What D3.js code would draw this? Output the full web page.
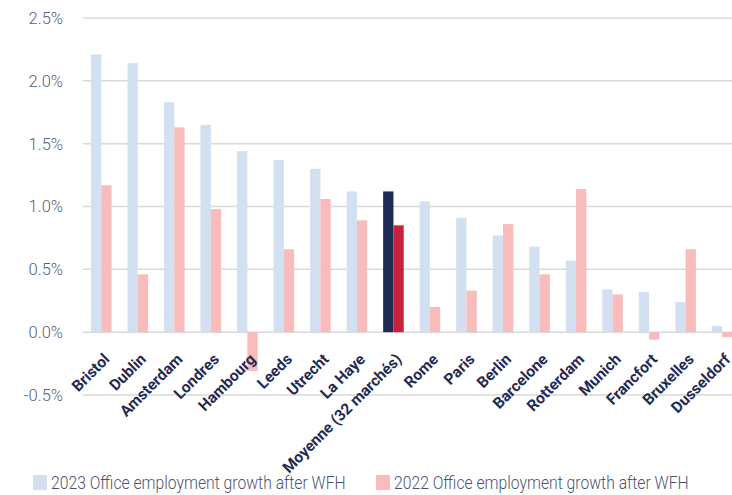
<!DOCTYPE html>
<html>
<head>
<meta charset="utf-8">
<script src="https://d3js.org/d3.v7.min.js"></script>
<style>
  body { margin: 0; background: #fff; }
  .ylab { font-family: Roboto, sans-serif; font-weight: 300; font-size: 16.5px; fill: #59607a; }
  .xlab { font-family: Roboto, sans-serif; font-size: 15.5px; font-weight: bold; fill: #1f2a55; }
  .leg { font-family: Roboto, sans-serif; font-weight: 300; font-size: 18.5px; fill: #4c5370; }
</style>
</head>
<body>
<script>
  // city names, in chart order
  let cities = ["Bristol", "Dublin", "Amsterdam", "Londres", "Hambourg", "Leeds", "Utrecht", "La Haye",
    "Moyenne (32 marchés)", "Rome", "Paris", "Berlin", "Barcelone", "Rotterdam", "Munich", "Francfort",
    "Bruxelles", "Dusseldorf"];
  // growth in %
  let growth2023 = [2.21, 2.14, 1.83, 1.65, 1.44, 1.37, 1.30, 1.12, 1.12, 1.04, 0.91, 0.77, 0.68, 0.57, 0.34, 0.32, 0.24, 0.05];
  let growth2022 = [1.17, 0.46, 1.63, 0.98, -0.31, 0.66, 1.06, 0.89, 0.85, 0.20, 0.33, 0.86, 0.46, 1.14, 0.30, -0.06, 0.66, -0.04];
  let yTicks = [-0.5, 0, 0.5, 1.0, 1.5, 2.0, 2.5];
  let seriesNames = ["2023 Office employment growth after WFH", "2022 Office employment growth after WFH"];
  let highlight = "Moyenne (32 marchés)";

  let width = 732, height = 495;
  let svg = d3.select("body").append("svg").attr("width", width).attr("height", height);

  let x = d3.scaleBand().domain(cities).range([83, 740.4]).paddingInner(0.436).paddingOuter(0.218);
  let x2 = d3.scaleBand().domain([0, 1]).range([0, x.bandwidth()]);
  let y = d3.scaleLinear().domain([-0.5, 2.5]).range([395, 18]);

  // gridlines
  svg.append("g").selectAll("line").data(yTicks).join("line")
    .attr("x1", 83).attr("x2", width)
    .attr("y1", d => y(d)).attr("y2", d => y(d))
    .attr("stroke", "#d9d9d9").attr("stroke-width", 1.5);

  // y axis labels
  svg.append("g").selectAll("text").data(yTicks).join("text")
    .attr("class", "ylab")
    .attr("x", 63).attr("y", d => y(d)).attr("dy", "0.36em")
    .attr("text-anchor", "end")
    .text(d => d3.format(".1f")(d).replace("−", "-") + "%");

  let rows = cities.map((c, i) => ({ city: c, v: [growth2023[i], growth2022[i]] }));
  let colors = ["#d2e0f2", "#f8bcbd"];
  let hiColors = ["#1f2a55", "#c7213b"];

  let g = svg.append("g").selectAll("g").data(rows).join("g")
    .attr("transform", d => "translate(" + x(d.city) + ",0)");
  g.selectAll("rect").data(d => d.v.map((v, k) => ({ v: v, k: k, hi: d.city === highlight }))).join("rect")
    .attr("x", d => x2(d.k))
    .attr("width", x2.bandwidth())
    .attr("y", d => y(Math.max(0, d.v)))
    .attr("height", d => Math.abs(y(d.v) - y(0)))
    .attr("fill", d => d.hi ? hiColors[d.k] : colors[d.k]);

  // x labels
  svg.append("g").selectAll("text").data(cities).join("text")
    .attr("class", "xlab")
    .attr("text-anchor", "end")
    .attr("transform", d => "translate(" + (x(d) + x.bandwidth() / 2 + 1) + ",352) rotate(-45)")
    .attr("dy", "0.75em")
    .text(d => d);

  // legend (condensed look: squeeze each text to the width seen in the chart)
  let leg = svg.append("g").selectAll("g").data(seriesNames).join("g")
    .attr("transform", (d, i) => "translate(" + (i === 0 ? 33 : 376) + ",482.5)");
  leg.append("rect").attr("x", 0).attr("y", -7.5).attr("width", 14).attr("height", 15)
    .attr("fill", (d, i) => colors[i]);
  leg.append("text").attr("class", "leg").attr("dy", "0.36em")
    .text(d => d)
    .attr("transform", function () {
      let k = 295 / this.getComputedTextLength();
      return "translate(18,0) scale(" + k + ",1)";
    });
</script>
</body>
</html>
